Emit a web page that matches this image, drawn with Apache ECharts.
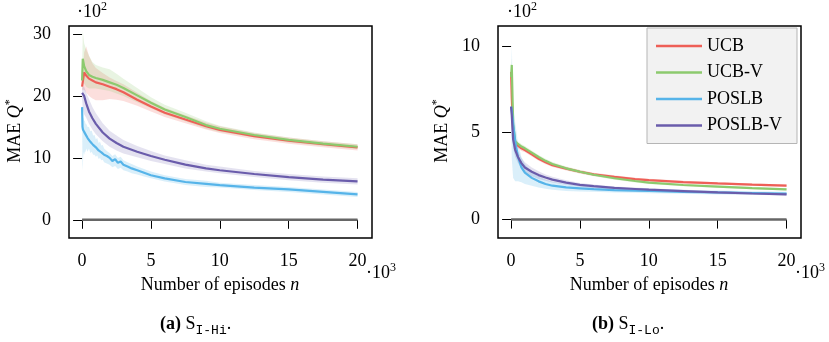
<!DOCTYPE html>
<html><head><meta charset="utf-8">
<script src="https://cdn.jsdelivr.net/npm/echarts@6/dist/echarts.min.js"></script>
<style>html,body{margin:0;padding:0;background:#fff}#c{width:829px;height:342px}</style>
</head><body><div id="c"></div>
<script>
// ---------- data (x in units of 10^3 episodes, y in units of 10^2) ----------
const X = [0, 0.05, 0.15, 0.3, 0.5, 0.75, 1, 1.5, 2, 2.5, 3, 4, 5, 6, 7.5, 9, 10, 12.5, 15, 17.5, 20];
const xTicks = [0, 5, 10, 15, 20];
const yTicksHi = [0, 10, 20, 30];
const yTicksLo = [0, 5, 10];
const legendNames = ['UCB', 'UCB-V', 'POSLB', 'POSLB-V'];

// S_I-Hi
const ucbHi      = [21.5, 21.6, 23.8, 23.3, 22.8, 22.5, 22.2, 21.9, 21.5, 21.1, 20.6, 19.4, 18.3, 17.3, 16.2, 15.1, 14.5, 13.5, 12.8, 12.2, 11.7];
const ucbHiUp    = [22.0, 23.0, 27.0, 28.0, 26.5, 25.3, 24.5, 23.7, 23.0, 22.4, 21.9, 20.5, 19.2, 18.1, 16.9, 15.7, 15.1, 14.0, 13.3, 12.7, 12.2];
const ucbHiLo    = [21.0, 21.0, 21.0, 20.5, 20.0, 19.6, 19.3, 19.3, 19.5, 19.4, 19.2, 18.4, 17.5, 16.6, 15.6, 14.6, 14.0, 13.0, 12.3, 11.7, 11.2];
const ucbvHi     = [22.5, 26.0, 24.8, 24.0, 23.4, 23.1, 22.9, 22.6, 22.2, 21.8, 21.3, 20.1, 18.9, 17.8, 16.6, 15.3, 14.7, 13.7, 12.9, 12.3, 11.8];
const ucbvHiUp   = [24.0, 30.5, 28.5, 27.5, 26.5, 25.5, 25.0, 24.6, 24.3, 23.6, 22.8, 21.3, 19.8, 18.6, 17.3, 15.9, 15.2, 14.1, 13.3, 12.7, 12.2];
const ucbvHiLo   = [21.0, 22.0, 22.0, 21.5, 21.2, 21.2, 21.2, 21.0, 20.8, 20.4, 20.0, 19.0, 18.0, 17.0, 15.9, 14.7, 14.2, 13.3, 12.5, 11.9, 11.4];
const poslbvHi   = [20.5, 20.5, 20.0, 18.8, 17.5, 16.4, 15.5, 14.1, 13.1, 12.4, 11.8, 11.0, 10.3, 9.7, 8.9, 8.3, 8.0, 7.4, 6.9, 6.5, 6.2];
const poslbvHiUp = [21.0, 21.5, 21.5, 20.5, 19.5, 18.2, 17.2, 15.6, 14.4, 13.6, 12.9, 11.9, 11.1, 10.4, 9.6, 8.9, 8.6, 7.9, 7.4, 7.0, 6.7];
const poslbvHiLo = [19.5, 18.0, 17.0, 16.5, 15.5, 14.6, 13.8, 12.7, 11.8, 11.2, 10.7, 10.1, 9.5, 9.0, 8.3, 7.8, 7.5, 6.9, 6.4, 6.0, 5.7];
const XB = [0, 0.03, 0.06, 0.1, 0.15, 0.2, 0.25, 0.3, 0.4, 0.5, 0.6, 0.7, 0.8, 0.9, 1.0, 1.1, 1.2, 1.3, 1.4, 1.5, 1.6, 1.8, 2.0, 2.2, 2.4, 2.6, 2.8, 3.0, 3.3, 3.6, 4.0, 4.5, 5, 6, 7.5, 9, 10, 12.5, 15, 17.5, 20];
const poslbHi    = [18.2, 15.0, 14.6, 14.9, 14.2, 14.5, 13.8, 14.0, 13.2, 13.5, 12.6, 12.9, 12.1, 12.4, 11.7, 12.0, 11.2, 11.5, 10.9, 11.1, 10.5, 10.3, 10.0, 9.5, 9.8, 9.2, 9.4, 8.9, 8.6, 8.3, 8.0, 7.6, 7.2, 6.7, 6.1, 5.8, 5.6, 5.2, 4.9, 4.5, 4.1];
const poslbHiUp  = [18.5, 17.0, 16.5, 16.5, 16.0, 16.0, 15.5, 15.5, 15.0, 15.0, 14.3, 14.4, 13.6, 13.7, 13.0, 13.2, 12.4, 12.6, 12.0, 12.1, 11.5, 11.1, 10.8, 10.3, 10.6, 10.0, 10.2, 9.6, 9.3, 9.0, 8.6, 8.2, 7.8, 7.2, 6.6, 6.3, 6.0, 5.6, 5.3, 4.9, 4.5];
const poslbHiLo  = [17.0, 8.0, 9.0, 11.0, 10.5, 11.0, 11.0, 11.5, 11.0, 11.5, 10.8, 11.0, 10.5, 10.5, 10.2, 10.4, 9.8, 10.0, 9.6, 9.7, 9.3, 9.1, 8.9, 8.5, 8.7, 8.2, 8.4, 8.0, 7.8, 7.5, 7.3, 7.0, 6.7, 6.2, 5.6, 5.3, 5.2, 4.8, 4.5, 4.1, 3.7];

// S_I-Lo
const ucbLo      = [8.5, 7.0, 5.0, 4.4, 4.25, 4.1, 4.0, 3.75, 3.5, 3.3, 3.13, 2.93, 2.75, 2.6, 2.46, 2.33, 2.27, 2.16, 2.08, 2.01, 1.95];
const ucbLoUp    = [8.7, 7.5, 5.3, 4.6, 4.4, 4.25, 4.13, 3.87, 3.62, 3.41, 3.24, 3.03, 2.85, 2.69, 2.55, 2.41, 2.35, 2.24, 2.15, 2.08, 2.02];
const ucbLoLo    = [8.2, 6.5, 4.7, 4.2, 4.1, 3.95, 3.87, 3.63, 3.38, 3.19, 3.02, 2.83, 2.65, 2.51, 2.37, 2.25, 2.19, 2.08, 2.01, 1.94, 1.88];
const ucbvLo     = [8.2, 8.9, 5.5, 4.5, 4.35, 4.2, 4.1, 3.85, 3.6, 3.38, 3.2, 2.95, 2.75, 2.58, 2.38, 2.22, 2.13, 1.99, 1.9, 1.81, 1.74];
const ucbvLoUp   = [8.5, 9.3, 5.8, 4.65, 4.5, 4.35, 4.23, 3.98, 3.72, 3.5, 3.31, 3.05, 2.85, 2.67, 2.47, 2.3, 2.21, 2.06, 1.97, 1.88, 1.81];
const ucbvLoLo   = [7.9, 8.5, 5.2, 4.35, 4.2, 4.05, 3.97, 3.72, 3.48, 3.26, 3.09, 2.85, 2.65, 2.49, 2.29, 2.14, 2.05, 1.92, 1.83, 1.74, 1.67];
const poslbLo    = [6.5, 6.3, 5.5, 4.5, 3.6, 3.0, 2.7, 2.4, 2.2, 2.05, 1.95, 1.85, 1.8, 1.75, 1.7, 1.67, 1.65, 1.6, 1.56, 1.53, 1.5];
const poslbLoUp  = [6.7, 10.0, 6.6, 5.6, 4.4, 3.6, 3.2, 2.75, 2.5, 2.3, 2.17, 2.05, 1.97, 1.9, 1.84, 1.8, 1.78, 1.72, 1.67, 1.63, 1.6];
const poslbLoLo  = [6.2, 3.5, 2.4, 2.2, 2.2, 2.15, 2.05, 1.95, 1.85, 1.78, 1.72, 1.65, 1.62, 1.6, 1.56, 1.54, 1.52, 1.48, 1.45, 1.43, 1.4];
const poslbvLo   = [6.5, 6.0, 4.6, 4.0, 3.6, 3.25, 3.0, 2.75, 2.56, 2.42, 2.3, 2.13, 2.0, 1.92, 1.82, 1.76, 1.72, 1.64, 1.56, 1.5, 1.45];
const poslbvLoUp = [6.7, 6.5, 5.1, 4.4, 3.95, 3.55, 3.3, 3.0, 2.78, 2.6, 2.46, 2.26, 2.11, 2.02, 1.91, 1.84, 1.8, 1.71, 1.63, 1.57, 1.52];
const poslbvLoLo = [6.3, 5.5, 4.1, 3.6, 3.25, 2.95, 2.7, 2.5, 2.34, 2.24, 2.14, 2.0, 1.89, 1.82, 1.73, 1.68, 1.64, 1.57, 1.49, 1.43, 1.38];

const zeroX = [0, 20];
const zeroY = [0, 0];

// ---------- styling ----------
const FONT = '"Liberation Serif", "Times New Roman", serif';
const MONO = '"Liberation Mono", "DejaVu Sans Mono", monospace';
const C = { UCB: '#ee5f57', 'UCB-V': '#8cca6e', POSLB: '#56b4e9', 'POSLB-V': '#6a5cab' };

function pairs(xs, ys) { return xs.map((x, i) => [x, ys[i]]); }

function band(xs, lo, hi, color, gi, op) {
  const pts = xs.map((x, i) => [x, lo[i], hi[i]]);
  return {
    type: 'custom', coordinateSystem: 'cartesian2d', xAxisIndex: gi, yAxisIndex: gi,
    silent: true, z: 1, animation: false, data: pts, encode: { x: 0, y: [1, 2] },
    renderItem: function (params, api) {
      if (params.dataIndex !== 0) return null;
      const up = pts.map(p => api.coord([p[0], p[2]]));
      const dn = pts.map(p => api.coord([p[0], p[1]])).reverse();
      return { type: 'polygon', shape: { points: up.concat(dn) }, style: { fill: color, opacity: op } };
    }
  };
}
function line(name, xs, ys, gi) {
  return {
    type: 'line', name: name, xAxisIndex: gi, yAxisIndex: gi, data: pairs(xs, ys),
    symbol: 'none', showSymbol: false, z: 3, animation: false,
    lineStyle: { color: C[name], width: 2.2 }, itemStyle: { color: C[name] }
  };
}
function zero(gi) {
  return { type: 'line', name: 'zero', xAxisIndex: gi, yAxisIndex: gi, data: pairs(zeroX, zeroY),
    symbol: 'none', z: 2, animation: false, lineStyle: { color: '#666', width: 2.5 } };
}
function xAx(gi) {
  return { gridIndex: gi, type: 'value', min: -0.95, max: 21.05,
    axisLine: { show: false }, splitLine: { show: false },
    axisTick: { show: true, length: 9, customValues: xTicks, lineStyle: { color: '#000', width: 1 } },
    axisLabel: { customValues: xTicks, margin: 14, fontFamily: FONT, fontSize: 18, color: '#000' } };
}
function yAx(gi, mn, mx, ticks) {
  return { gridIndex: gi, type: 'value', min: mn, max: mx,
    axisLine: { show: false }, splitLine: { show: false },
    axisTick: { show: true, length: 9, customValues: ticks, lineStyle: { color: '#000', width: 1 } },
    axisLabel: { customValues: ticks, margin: 18, fontFamily: FONT, fontSize: 18, color: '#000' } };
}

const richBase = {
  r: { fontFamily: FONT, fontSize: 18, color: '#000', verticalAlign: 'bottom', padding: [0, 0, 0, 0] },
  i: { fontFamily: FONT, fontSize: 18, fontStyle: 'italic', color: '#000', verticalAlign: 'bottom' },
  sup: { fontFamily: FONT, fontSize: 12, color: '#000', verticalAlign: 'bottom', padding: [0, 0, 8, 0] },
  b: { fontFamily: FONT, fontSize: 18, fontWeight: 'bold', color: '#000', verticalAlign: 'bottom', padding: [0, 0, 4, 0] },
  rc: { fontFamily: FONT, fontSize: 18, color: '#000', verticalAlign: 'bottom', padding: [0, 0, 4, 0] },
  m: { fontFamily: MONO, fontSize: 13, color: '#000', verticalAlign: 'bottom', padding: [0, 0, 0, 0] }
};
function txt(x, y, text, align, rot) {
  return { type: 'text', x: x, y: y, rotation: rot || 0, silent: true,
    style: { text: text, align: align || 'left', verticalAlign: 'middle', rich: richBase, fill: '#000', font: '18px ' + FONT } };
}

const option = {
  backgroundColor: '#fff',
  animation: false,
  grid: [
    { left: 69, top: 26, width: 303, height: 212, show: true, borderColor: '#000', borderWidth: 1.5, backgroundColor: 'transparent' },
    { left: 498, top: 26, width: 303, height: 212, show: true, borderColor: '#000', borderWidth: 1.5, backgroundColor: 'transparent' }
  ],
  xAxis: [xAx(0), xAx(1)],
  yAxis: [yAx(0, -2.94, 31.3, yTicksHi), yAx(1, -1.06, 11.14, yTicksLo)],
  legend: {
    data: legendNames, orient: 'vertical', left: 647, top: 28,
    icon: 'rect', itemWidth: 46, itemHeight: 2.5, itemGap: 6.5, itemTextGap: 6,
    padding: [8, 15, 8, 9],
    backgroundColor: '#f2f2f2', borderColor: '#b5b5b5', borderWidth: 1, borderRadius: 0,
    textStyle: { fontFamily: FONT, fontSize: 18, color: '#000', lineHeight: 20 }
  },
  series: [
    band(X, ucbHiLo, ucbHiUp, C.UCB, 0, 0.2),
    band(X, ucbvHiLo, ucbvHiUp, C['UCB-V'], 0, 0.2),
    band(XB, poslbHiLo, poslbHiUp, C.POSLB, 0, 0.22),
    band(X, poslbvHiLo, poslbvHiUp, C['POSLB-V'], 0, 0.18),
    zero(0),
    line('UCB', X, ucbHi, 0),
    line('UCB-V', X, ucbvHi, 0),
    line('POSLB', XB, poslbHi, 0),
    line('POSLB-V', X, poslbvHi, 0),
    band(X, ucbLoLo, ucbLoUp, C.UCB, 1, 0.2),
    band(X, ucbvLoLo, ucbvLoUp, C['UCB-V'], 1, 0.2),
    band(X, poslbLoLo, poslbLoUp, C.POSLB, 1, 0.22),
    band(X, poslbvLoLo, poslbvLoUp, C['POSLB-V'], 1, 0.18),
    zero(1),
    line('UCB', X, ucbLo, 1),
    line('UCB-V', X, ucbvLo, 1),
    line('POSLB', X, poslbLo, 1),
    line('POSLB-V', X, poslbvLo, 1)
  ],
  graphic: [
    txt(77, 11, '{r|·10}{sup|2}'),
    txt(507, 11, '{r|·10}{sup|2}'),
    txt(366, 272, '{r|·10}{sup|3}'),
    txt(795, 272, '{r|·10}{sup|3}'),
    txt(220, 285, '{r|Number of episodes }{i|n}', 'center'),
    txt(649, 285, '{r|Number of episodes }{i|n}', 'center'),
    txt(14, 131, '{r|MAE }{i|Q}{sup|*}', 'center', Math.PI / 2),
    txt(441, 131, '{r|MAE }{i|Q}{sup|*}', 'center', Math.PI / 2),
    txt(160, 326, '{b|(a)}{rc| S}{m|I-Hi}{rc|.}'),
    txt(592, 326, '{b|(b)}{rc| S}{m|I-Lo}{rc|.}')
  ]
};
const chart = echarts.init(document.getElementById('c'), null, { renderer: 'canvas' });
chart.setOption(option);
</script>
</body></html>
